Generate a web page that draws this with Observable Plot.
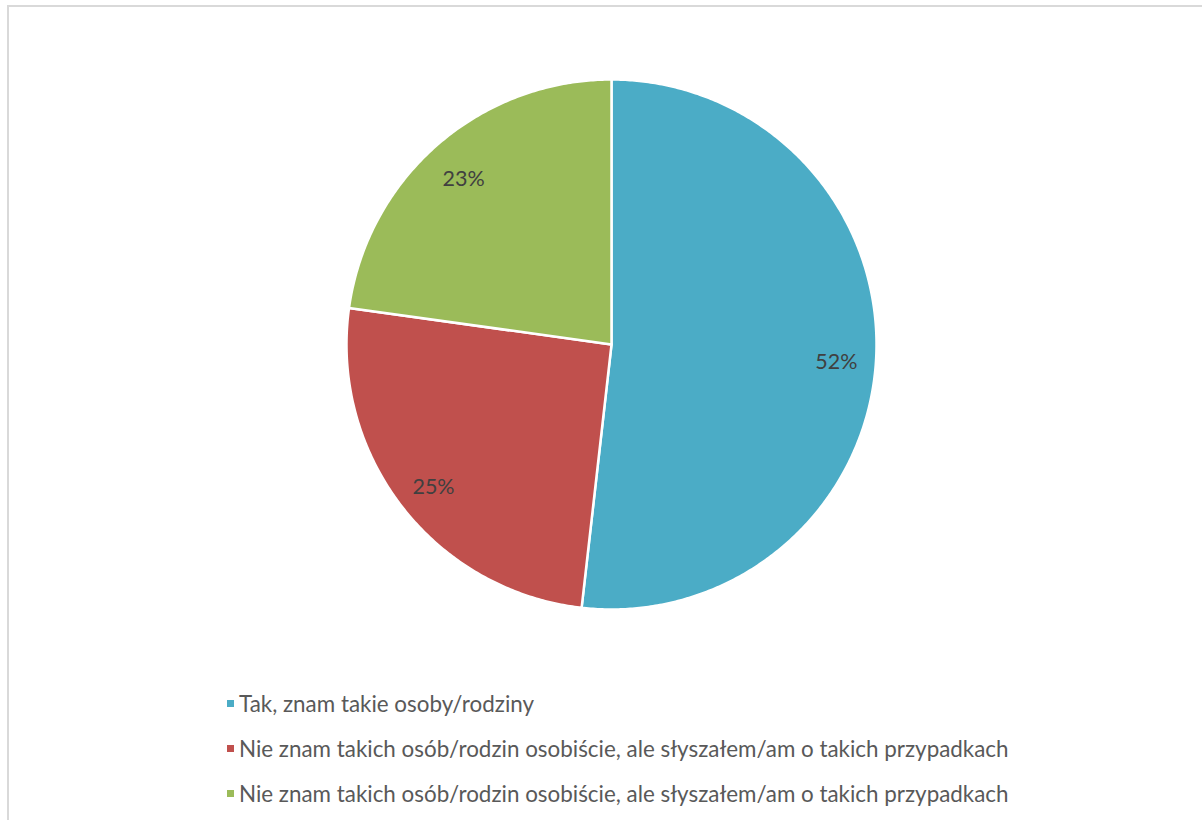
<!DOCTYPE html>
<html>
<head>
<meta charset="utf-8">
<script src="https://cdn.jsdelivr.net/npm/d3@7"></script>
<script src="https://cdn.jsdelivr.net/npm/@observablehq/plot@0.6"></script>
<style>
  html, body { margin: 0; padding: 0; background: #fff; }
  #wrap { position: relative; width: 1202px; height: 820px; overflow: hidden; }
  #frame { position: absolute; left: 7px; top: 5px; width: 1300px; height: 900px;
           border-top: 2px solid #d9d9d9; border-left: 2px solid #d9d9d9; box-sizing: border-box; }
  #chart { position: absolute; left: 0; top: 0; }
  #legend { position: absolute; left: 227px; top: 681px; font-family: Lato, "Open Sans", sans-serif;
            font-size: 22.4px; color: #595959; }
  .row { height: 45px; line-height: 45px; white-space: nowrap; display: flex; align-items: center; }
  .sw { width: 7px; height: 7px; margin-right: 5px; flex: none; }
</style>
</head>
<body>
<div id="wrap">
  <div id="frame"></div>
  <div id="chart"></div>
  <div id="legend"></div>
</div>
<script>
const categories = [
  "Tak, znam takie osoby/rodziny",
  "Nie znam takich osób/rodzin osobiście, ale słyszałem/am o takich przypadkach",
  "Nie znam takich osób/rodzin osobiście, ale słyszałem/am o takich przypadkach"
];
const values = [51.8, 25.4, 22.8];
const labels = ["52%", "25%", "23%"];
const colors = ["#4bacc6", "#c0504d", "#9bbb59"];

const keys = categories.map((c, i) => String(i));
const arcs = d3.pie().sort(null).value(d => d.value)(
  categories.map((c, i) => ({key: keys[i], value: values[i], label: labels[i]}))
);

// polygon vertices of each slice, in unit-circle data space (y up)
const poly = [];
for (const a of arcs) {
  poly.push({key: a.data.key, x: 0, y: 0});
  const n = Math.max(2, Math.ceil((a.endAngle - a.startAngle) / (Math.PI / 360)));
  for (let k = 0; k <= n; k++) {
    const t = a.startAngle + (a.endAngle - a.startAngle) * k / n;
    poly.push({key: a.data.key, x: Math.sin(t), y: Math.cos(t)});
  }
}
const labelPts = arcs.map(a => {
  const m = (a.startAngle + a.endAngle) / 2;
  return {key: a.data.key, x: 0.85 * Math.sin(m), y: 0.85 * Math.cos(m), text: a.data.label};
});

const chart = Plot.plot({
  width: 1202,
  height: 680,
  marginLeft: 346,
  marginRight: 326,
  marginTop: 79,
  marginBottom: 71,
  x: {domain: [-1, 1], axis: null},
  y: {domain: [-1, 1], axis: null},
  color: {domain: keys, range: colors},
  style: {background: "transparent", overflow: "visible"},
  marks: [
    Plot.line(poly, {x: "x", y: "y", z: "key", fill: "key", stroke: "white", strokeWidth: 2.5,
      curve: "linear-closed", strokeLinejoin: "round"}),
    Plot.text(labelPts, {x: "x", y: "y", text: "text", fill: "#404040", fontSize: 21.5,
      dy: 5, fontFamily: "Lato, 'Open Sans', sans-serif"})
  ]
});
document.getElementById("chart").appendChild(chart);

const legend = d3.select("#legend");
categories.forEach((c, i) => {
  const row = legend.append("div").attr("class", "row");
  row.append("div").attr("class", "sw").style("background", colors[i]);
  row.append("span").text(c);
});
</script>
</body>
</html>
